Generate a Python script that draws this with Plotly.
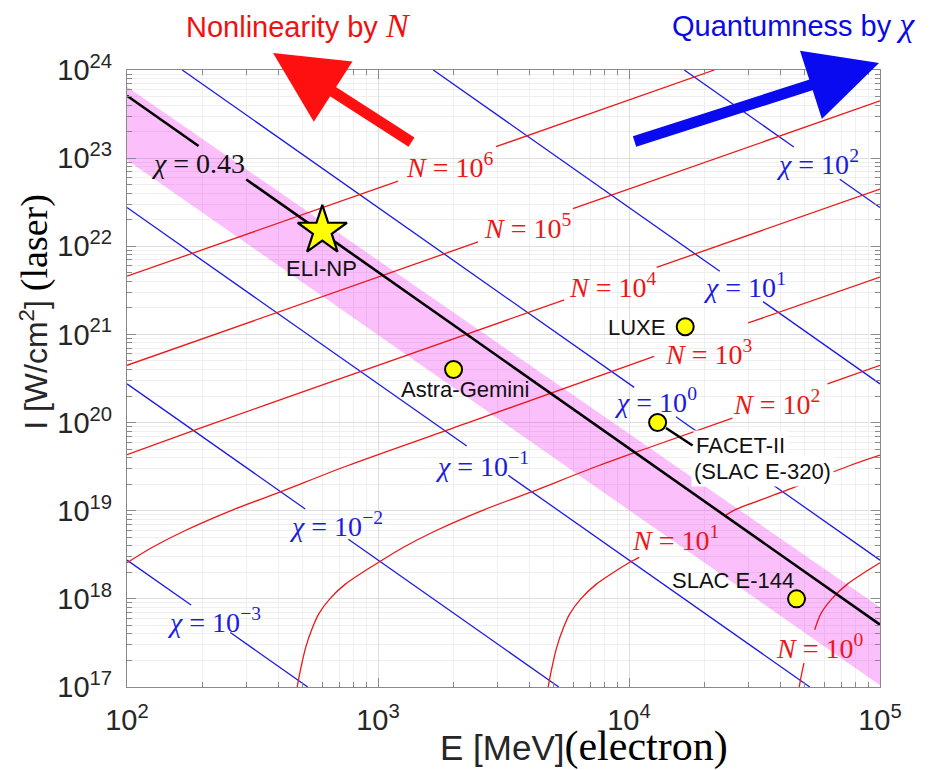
import math
import plotly.graph_objects as go

# ---------------- tick labels ----------------
x_tick_vals = [1e2, 1e3, 1e4, 1e5]
x_tick_text = ["10<sup>2</sup>", "10<sup>3</sup>", "10<sup>4</sup>", "10<sup>5</sup>"]
y_tick_vals = [1e17, 1e18, 1e19, 1e20, 1e21, 1e22, 1e23, 1e24]
y_tick_text = ["10<sup>17</sup>", "10<sup>18</sup>", "10<sup>19</sup>", "10<sup>20</sup>",
               "10<sup>21</sup>", "10<sup>22</sup>", "10<sup>23</sup>", "10<sup>24</sup>"]
x_minor = [float(m) * 10.0 ** k for k in (2, 3, 4) for m in range(2, 10)]
y_minor = [float(m) * 10.0 ** k for k in range(17, 24) for m in range(2, 10)]

# ---------------- chi = const lines (blue), None = gap for label ----------------
chi_m3_E = [100, 180, None, 258, 525]
chi_m3_I = [2.75e18, 8.51e17, None, 4.15e17, 1.0e17]
chi_m2_E = [100, 513, None, 762, 5250]
chi_m2_I = [2.75e20, 1.047e19, None, 4.74e18, 1.0e17]
chi_m1_E = [100, 2257, None, 3304, 52500]
chi_m1_I = [2.75e22, 5.41e19, None, 2.52e19, 1.0e17]
chi_0_E = [166, 10490, None, 15370, 1e5]
chi_0_I = [1e24, 2.506e20, None, 1.167e20, 2.75e18]
chi_1_E = [1660, 23010, None, 34200, 1e5]
chi_1_I = [1e24, 5.20e21, None, 2.355e21, 2.75e20]
chi_2_E = [16600, 45350, None, 69120, 1e5]
chi_2_I = [1e24, 1.340e23, None, 5.768e22, 2.75e22]

chi_label_text = ["<i>χ</i> = 10<sup>−3</sup>", "<i>χ</i> = 10<sup>−2</sup>",
                  "<i>χ</i> = 10<sup>−1</sup>", "<i>χ</i> = 10<sup>0</sup>",
                  "<i>χ</i> = 10<sup>1</sup>", "<i>χ</i> = 10<sup>2</sup>"]
chi_label_E = [223, 681, 2594, 12790, 28910, 56230]
chi_label_I = [5.72e17, 7.03e18, 3.37e19, 1.795e20, 3.63e21, 9.04e22]

# ---------------- chi = 0.43 line (black) and band ----------------
chi043_E = [100, 192.8, None, 298.5, 1e5]
chi043_I = [5.105e23, 1.374e23, None, 5.728e22, 5.105e17]
chi043_label_E = 192.3
chi043_label_I = 8.69e22
band_E = [100, 1e5, 1e5, 100]
band_I = [6.457e23, 8.035e17, 1.047e17, 9.55e22]

# ---------------- N = const lines (red) ----------------
N6_E = [100, 1202, None, 2951, 21880]
N6_I = [4.571e21, 5.495e22, None, 1.349e23, 1e24]
N5_E = [100, 2503, None, 5980, 1e5]
N5_I = [4.467e20, 1.119e22, None, 2.673e22, 4.467e23]
N4_E = [100, 199.5, 501.2, 5521, None, 12880, 1e5]
N4_I = [4.325e19, 8.81e19, 2.228e20, 2.466e21, None, 5.754e21, 4.467e22]
N3_E = [100, 125.3, 169.0, 264.2, 405.5, 755.1, 2244, 12590, None, 29850, 1e5]
N3_I = [2.570e18, 3.802e18, 5.888e18, 1.023e19, 1.622e19, 3.236e19, 9.772e19, 5.623e20,
        None, 1.349e21, 4.467e21]
N2_E = [476.4, 489.8, 515.2, 549.5, 580.8, 642.7, 743.0, 867.0, 1000, 1253, 1690, 2642,
        4055, 7551, 12110, 25820, None, 61800, 1e5]
N2_I = [1e17, 1.514e17, 2.818e17, 4.786e17, 6.761e17, 1e18, 1.479e18, 1.995e18, 2.570e18,
        3.802e18, 5.888e18, 1.023e19, 1.622e19, 3.236e19, 5.248e19, 1.122e20, None,
        2.754e20, 4.467e20]
N1_E = [4764, 4898, 5152, 5495, 5808, 6427, 7430, 8670, 10000, 10990, None, 24320, 26420,
        40550, 75510, 1e5]
N1_I = [1e17, 1.514e17, 2.818e17, 4.786e17, 6.761e17, 1e18, 1.479e18, 1.995e18, 2.570e18,
        2.951e18, None, 8.913e18, 1.023e19, 1.622e19, 3.236e19, 4.266e19]
N0_E = [47640, 48980, 49770, None, 54950, 58080, 64270, 74300, 86700, 1e5]
N0_I = [1e17, 1.514e17, 1.862e17, None, 4.467e17, 6.761e17, 1e18, 1.479e18, 1.995e18, 2.570e18]

N_label_text = ["<i>N</i> = 10<sup>6</sup>", "<i>N</i> = 10<sup>5</sup>",
                "<i>N</i> = 10<sup>4</sup>", "<i>N</i> = 10<sup>3</sup>",
                "<i>N</i> = 10<sup>2</sup>", "<i>N</i> = 10<sup>1</sup>",
                "<i>N</i> = 10<sup>0</sup>"]
N_label_E = [1919, 3923, 8603, 20800, 38800, 15370, 57540]
N_label_I = [8.356e22, 1.694e22, 3.631e21, 6.295e20, 1.704e20, 4.875e18, 2.897e17]

# ---------------- experiments ----------------
eli_E = [600]
eli_I = [1.5e22]
exp_E = [2000, 16750, 13000, 46500]
exp_I = [4.0e20, 1.22e21, 1.0e20, 1.0e18]

# label anchors for experiment names
eli_label = ("ELI-NP", 597, 5.585e21)
astra_label = ("Astra-Gemini", 2223, 2.393e20)
luxe_label = ("LUXE", 10740, 1.211e21)
e144_label = ("SLAC E-144", 25940, 1.626e18)
e320_label = ("(SLAC E-320)", 17640, 2.805e19)

BLUE = "rgb(28,28,225)"
RED = "rgb(236,24,24)"
SERIF = "Liberation Serif, Times New Roman, serif"
SANS = "Liberation Sans, Arial, sans-serif"

fig = go.Figure()

fig.add_trace(go.Scatter(x=band_E, y=band_I, mode="lines", fill="toself",
                         fillcolor="rgba(240,0,240,0.25)", line=dict(width=0),
                         hoverinfo="skip"))

for ex, iy in [(chi_m3_E, chi_m3_I), (chi_m2_E, chi_m2_I), (chi_m1_E, chi_m1_I),
               (chi_0_E, chi_0_I), (chi_1_E, chi_1_I), (chi_2_E, chi_2_I)]:
    fig.add_trace(go.Scatter(x=ex, y=iy, mode="lines", line=dict(color=BLUE, width=1.3),
                             connectgaps=False, hoverinfo="skip"))

for ex, iy in [(N6_E, N6_I), (N5_E, N5_I), (N4_E, N4_I), (N3_E, N3_I),
               (N2_E, N2_I), (N1_E, N1_I), (N0_E, N0_I)]:
    fig.add_trace(go.Scatter(x=ex, y=iy, mode="lines",
                             line=dict(color=RED, width=1.3, shape="spline", smoothing=0.8),
                             connectgaps=False, hoverinfo="skip"))

fig.add_trace(go.Scatter(x=chi043_E, y=chi043_I, mode="lines",
                         line=dict(color="black", width=2.6), connectgaps=False,
                         hoverinfo="skip"))

fig.add_trace(go.Scatter(x=exp_E, y=exp_I, mode="markers",
                         marker=dict(symbol="circle", size=17, color="#FFFF00",
                                     line=dict(color="black", width=2))))
fig.add_trace(go.Scatter(x=eli_E, y=eli_I, mode="markers",
                         marker=dict(symbol="star", size=37, color="#FFFF00",
                                     line=dict(color="black", width=2.2))))

ann = []
for t, e, i in zip(chi_label_text, chi_label_E, chi_label_I):
    ann.append(dict(x=math.log10(e), y=math.log10(i), text=t, showarrow=False,
                    font=dict(family=SERIF, size=28, color=BLUE)))
for t, e, i in zip(N_label_text, N_label_E, N_label_I):
    ann.append(dict(x=math.log10(e), y=math.log10(i), text=t, showarrow=False,
                    font=dict(family=SERIF, size=28, color=RED)))
ann.append(dict(x=math.log10(chi043_label_E), y=math.log10(chi043_label_I),
                text="<i>χ</i> = 0.43", showarrow=False,
                font=dict(family=SERIF, size=28, color="#111111")))

for t, e, i in [eli_label, astra_label, luxe_label, e144_label]:
    ann.append(dict(x=math.log10(e), y=math.log10(i), text=t, showarrow=False,
                    font=dict(family=SANS, size=22, color="#111111")))
ann.append(dict(x=math.log10(exp_E[2]), y=math.log10(exp_I[2]), text="FACET-II",
                showarrow=True, ax=35, ay=23, axref="pixel", ayref="pixel",
                xanchor="left", yanchor="middle", arrowhead=0, arrowwidth=2.5,
                arrowcolor="black", standoff=10, bgcolor="white", borderpad=2,
                font=dict(family=SANS, size=22, color="#111111")))
ann.append(dict(x=math.log10(e320_label[1]), y=math.log10(e320_label[2]),
                text=e320_label[0], showarrow=False, xanchor="left", yanchor="middle",
                bgcolor="white", borderpad=2,
                font=dict(family=SANS, size=22, color="#111111")))

# direction arrows and captions
ann.append(dict(x=0.1939, y=1.0276, xref="paper", yref="paper", ax=140, ay=90,
                axref="pixel", ayref="pixel", text="", showarrow=True, arrowhead=2,
                arrowsize=1.3, arrowwidth=11, arrowcolor="#FF1010"))
ann.append(dict(x=0.9987, y=1.0113, xref="paper", yref="paper", ax=-246, ay=79,
                axref="pixel", ayref="pixel", text="", showarrow=True, arrowhead=2,
                arrowsize=1.3, arrowwidth=11, arrowcolor="#0A0AF0"))
ann.append(dict(x=0.2278, y=1.0715, xref="paper", yref="paper", showarrow=False,
                xanchor="center", yanchor="middle",
                text='Nonlinearity by <span style="font-family:Liberation Serif;font-size:34px"><i>N</i></span>',
                font=dict(family=SANS, size=29, color="#F01010")))
ann.append(dict(x=0.885, y=1.0730, xref="paper", yref="paper", showarrow=False,
                xanchor="center", yanchor="middle",
                text='Quantumness by <span style="font-family:Liberation Serif;font-size:34px"><i>χ</i></span>',
                font=dict(family=SANS, size=29, color="#0A0AE6")))

# axis titles
ann.append(dict(x=0.607, y=-0.0965, xref="paper", yref="paper", showarrow=False,
                xanchor="center", yanchor="middle",
                text='E [MeV]<span style="font-family:Liberation Serif;font-size:42px;fill:#000">(electron)</span>',
                font=dict(family=SANS, size=35, color="#262626")))
ann.append(dict(x=-0.1222, y=0.608, xref="paper", yref="paper", showarrow=False,
                xanchor="center", yanchor="middle", textangle=-90,
                text='I [W/cm<sup>2</sup>]&nbsp;<span style="font-family:Liberation Serif;font-size:38px;fill:#000">(laser)</span>',
                font=dict(family=SANS, size=32, color="#262626")))

axis_common = dict(type="log", showline=True, linecolor="#8a8a8a", linewidth=1.2,
                   mirror="allticks", ticks="inside", ticklen=9, tickwidth=1,
                   tickcolor="#8a8a8a", showgrid=True, gridcolor="#dedede", gridwidth=1,
                   zeroline=False, tickmode="array",
                   tickfont=dict(family=SANS, size=29, color="#262626"))

fig.update_xaxes(range=[2, 5], tickvals=x_tick_vals, ticktext=x_tick_text,
                 ticklabelstandoff=7,
                 minor=dict(tickmode="array", tickvals=x_minor, ticks="inside", ticklen=5,
                            tickcolor="#8a8a8a", showgrid=True, gridcolor="#efefef"),
                 **axis_common)
fig.update_yaxes(range=[17, 24], tickvals=y_tick_vals, ticktext=y_tick_text,
                 ticklabelstandoff=8,
                 minor=dict(tickmode="array", tickvals=y_minor, ticks="inside", ticklen=5,
                            tickcolor="#8a8a8a", showgrid=True, gridcolor="#efefef"),
                 **axis_common)

# the page body adds an 8 px offset, so the figure is 8 px smaller in each direction
fig.update_layout(width=924, height=762, margin=dict(l=119, r=52, t=62, b=83),
                  paper_bgcolor="white", plot_bgcolor="white", showlegend=False,
                  font=dict(family=SANS, size=26, color="#262626"),
                  annotations=ann)

fig.write_html("out.html")
